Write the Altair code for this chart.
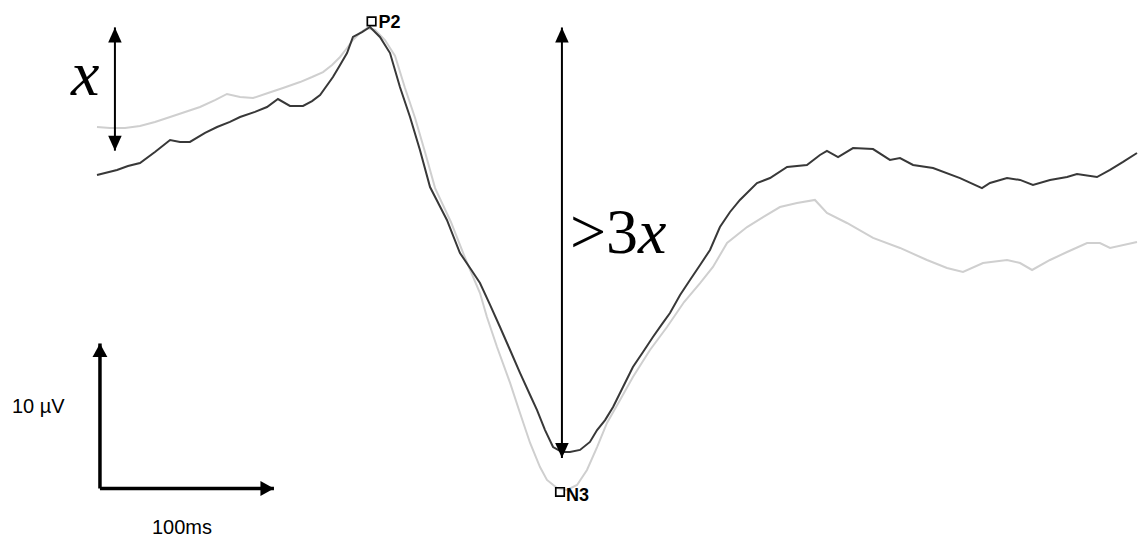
import altair as alt
import pandas as pd

# Grand-average waveforms (time in ms, amplitude in µV, positive up)
dark_t = [0, 4.6, 11.5, 17.8, 24.7, 33.3, 42.0, 47.7, 53.4, 62.1, 69.0, 76.4, 82.2, 90.8, 97.7,
          104.0, 110.9, 118.4, 123.6, 128.2, 135.6, 139.7, 143.7, 147.1, 152.3, 156.9, 162.6,
          168.4, 174.1, 179.9, 185.6, 191.4, 201.1, 208.6, 214.4, 220.1, 225.9, 231.6, 237.4,
          243.1, 248.9, 252.9, 257.5, 262.1, 267.2, 271.8, 277.6, 283.3, 287.4, 292.0, 296.6,
          302.3, 308.0, 313.8, 319.5, 324.7, 329.3, 335.1, 340.8, 346.6, 352.3, 358.0, 363.8,
          369.5, 379.3, 386.8, 396.6, 408.0, 415.5, 419.5, 425.9, 434.5, 446.0, 455.7, 461.5,
          469.0, 480.5, 496.0, 508.6, 513.2, 523.0, 530.5, 537.9, 547.7, 557.5, 563.2, 574.7,
          582.2, 589.7, 597.7]
dark_v = [8.62, 8.76, 8.97, 9.24, 9.45, 10.21, 11.03, 10.90, 10.90, 11.52, 11.93, 12.28, 12.62,
          12.97, 13.31, 13.86, 13.38, 13.38, 13.72, 14.14, 15.38, 16.21, 17.03, 18.14, 18.48,
          18.83, 18.14, 17.03, 14.69, 12.62, 10.34, 7.79, 5.52, 3.24, 2.21, 1.17, -0.34, -1.86,
          -3.45, -5.03, -6.55, -7.59, -8.97, -10.14, -10.48, -10.48, -10.34, -9.79, -8.97,
          -8.28, -7.38, -6.00, -4.62, -3.59, -2.55, -1.66, -0.90, 0.34, 1.38, 2.41, 3.45, 5.03,
          6.07, 6.90, 8.07, 8.41, 9.17, 9.31, 10.00, 10.28, 9.86, 10.48, 10.41, 9.66, 9.79,
          9.31, 9.10, 8.41, 7.72, 8.07, 8.41, 8.28, 7.93, 8.28, 8.48, 8.69, 8.48, 8.97, 9.52,
          10.14]

light_t = [0, 7.5, 16.1, 24.7, 33.3, 42.0, 50.6, 59.2, 67.8, 74.7, 82.2, 89.7, 98.3, 106.9,
           116.7, 123.6, 129.9, 135.1, 139.7, 143.7, 147.1, 151.1, 155.2, 159.8, 165.5, 171.3,
           177.0, 182.8, 188.5, 194.3, 203.4, 210.9, 214.4, 220.1, 224.1, 229.9, 237.4, 243.1,
           248.9, 254.6, 258.6, 264.4, 270.1, 275.9, 281.6, 287.4, 293.1, 300.6, 308.0, 317.8,
           327.6, 337.4, 346.6, 354.0, 362.1, 373.6, 382.8, 392.5, 402.3, 412.6, 419.5, 431.0,
           446.0, 461.5, 477.0, 488.5, 497.7, 509.2, 523.0, 530.5, 537.4, 547.7, 557.5, 569.0,
           576.4, 582.2, 597.7]
light_v = [11.93, 11.86, 11.86, 12.00, 12.28, 12.62, 12.97, 13.31, 13.79, 14.21, 14.00, 13.93,
           14.28, 14.62, 15.03, 15.38, 15.72, 16.21, 16.76, 17.38, 17.93, 18.41, 18.76, 18.62,
           17.93, 16.83, 14.62, 12.55, 10.21, 7.72, 5.38, 3.10, 2.07, 0.48, -1.17, -3.24, -5.72,
           -7.79, -9.86, -11.52, -12.41, -12.97, -13.10, -12.76, -11.72, -10.14, -8.48, -6.90,
           -5.31, -3.45, -1.86, -0.14, 1.17, 2.28, 3.93, 5.03, 5.72, 6.41, 6.69, 6.90, 6.00,
           5.31, 4.28, 3.59, 2.76, 2.21, 1.93, 2.55, 2.76, 2.55, 2.07, 2.76, 3.31, 3.93, 3.93,
           3.59, 4.00]

# Peak markers
peak_names = ["P2", "N3"]
peak_t = [157.8, 266.1]
peak_v = [19.21, -13.24]

# Amplitude arrows: "x" (P2 above baseline) and ">3x" (P2 to N3)
x_arrow = {"t": 10.3, "top": 18.8, "bottom": 10.3}
big_arrow = {"t": 267.2, "top": 18.8, "bottom": -10.9}

# Scale bar: origin, 100 ms horizontally and 10 µV vertically
bar_t0, bar_v0 = 1.7, -13.0
bar_ms, bar_uv = 100, 10

W, H = 1144, 543
PX_PER_MS, PX_PER_UV = 1.74, 14.5
T0_PX, V0_PX = 97, 300
x_dom = [-T0_PX / PX_PER_MS, (W - T0_PX) / PX_PER_MS]
y_dom = [(V0_PX - H) / PX_PER_UV, V0_PX / PX_PER_UV]

SERIF = "'Liberation Serif', 'Times New Roman', 'DejaVu Serif', serif"
SANS = "'Liberation Sans', Arial, sans-serif"

xs = alt.Scale(domain=x_dom, nice=False, zero=False)
ys = alt.Scale(domain=y_dom, nice=False, zero=False)


def X(field="t"):
    return alt.X(f"{field}:Q", scale=xs, axis=None)


def Y(field="v"):
    return alt.Y(f"{field}:Q", scale=ys, axis=None)


dark = pd.DataFrame({"t": dark_t, "v": dark_v})
light = pd.DataFrame({"t": light_t, "v": light_v})
peaks = pd.DataFrame({"name": peak_names, "t": peak_t, "v": peak_v})

light_line = alt.Chart(light).mark_line(color="#cfcfcf", strokeWidth=2).encode(x=X(), y=Y())
dark_line = alt.Chart(dark).mark_line(color="#383838", strokeWidth=2).encode(x=X(), y=Y())

peak_marks = alt.Chart(peaks).mark_point(
    shape="square", size=72, filled=False, stroke="black", strokeWidth=1.7, opacity=1
).encode(x=X(), y=Y())
p2_label = alt.Chart(peaks[peaks.name == "P2"]).mark_text(
    align="left", baseline="alphabetic", dx=7, dy=7, font=SANS,
    fontWeight="bold", fontSize=18, color="black"
).encode(x=X(), y=Y(), text="name:N")
n3_label = alt.Chart(peaks[peaks.name == "N3"]).mark_text(
    align="left", baseline="alphabetic", dx=6, dy=9, font=SANS,
    fontWeight="bold", fontSize=18, color="black"
).encode(x=X(), y=Y(), text="name:N")

UP = "M0,0L-0.45,1L0.45,1Z"
DOWN = "M0,0L-0.45,-1L0.45,-1Z"
UP_W = "M0,0L-0.55,1L0.55,1Z"
RIGHT_W = "M0,0L-1,-0.55L-1,0.55Z"

arrows = pd.DataFrame({
    "t": [x_arrow["t"], big_arrow["t"]],
    "top": [x_arrow["top"], big_arrow["top"]],
    "bottom": [x_arrow["bottom"], big_arrow["bottom"]],
})
shafts = alt.Chart(arrows).mark_rule(color="black", strokeWidth=2).encode(
    x=X(), y=Y("top"), y2="bottom:Q")
heads_up = alt.Chart(arrows).mark_point(
    shape=UP, size=900, filled=True, color="black", opacity=1, strokeWidth=0
).encode(x=X(), y=Y("top"))
heads_down = alt.Chart(arrows).mark_point(
    shape=DOWN, size=900, filled=True, color="black", opacity=1, strokeWidth=0
).encode(x=X(), y=Y("bottom"))

x_mid = pd.DataFrame({"t": [x_arrow["t"]], "v": [(x_arrow["top"] + x_arrow["bottom"]) / 2]})
big_mid = pd.DataFrame({"t": [big_arrow["t"]], "v": [(big_arrow["top"] + big_arrow["bottom"]) / 2]})

x_label = alt.Chart(x_mid).mark_text(
    text="x", align="left", baseline="alphabetic", dx=-44, dy=6, font=SERIF,
    fontStyle="italic", fontSize=64, color="black"
).encode(x=X(), y=Y())
gt3_label = alt.Chart(big_mid).mark_text(
    text=">3", align="left", baseline="alphabetic", dx=8, dy=10, font=SERIF,
    fontSize=64, color="black"
).encode(x=X(), y=Y())
gt3_x = alt.Chart(big_mid).mark_text(
    text="x", align="left", baseline="alphabetic", dx=76, dy=10, font=SERIF,
    fontStyle="italic", fontSize=64, color="black"
).encode(x=X(), y=Y())

# Scale bar
bar_v = pd.DataFrame({"t": [bar_t0], "v": [bar_v0], "v2": [bar_v0 + bar_uv]})
bar_h = pd.DataFrame({"t": [bar_t0], "t2": [bar_t0 + bar_ms], "v": [bar_v0]})
bar_v_rule = alt.Chart(bar_v).mark_rule(color="black", strokeWidth=3.5).encode(
    x=X(), y=Y(), y2="v2:Q")
bar_h_rule = alt.Chart(bar_h).mark_rule(color="black", strokeWidth=3.5).encode(
    x=X(), x2="t2:Q", y=Y())
bar_v_head = alt.Chart(bar_v).mark_point(
    shape=UP_W, size=729, filled=True, color="black", opacity=1, strokeWidth=0
).encode(x=X(), y=Y("v2"))
bar_h_head = alt.Chart(bar_h).mark_point(
    shape=RIGHT_W, size=729, filled=True, color="black", opacity=1, strokeWidth=0
).encode(x=X("t2"), y=Y())

uv_label = alt.Chart(pd.DataFrame({"t": [bar_t0], "v": [bar_v0 + bar_uv / 2], "s": ["10 µV"]})).mark_text(
    align="left", baseline="alphabetic", dx=-88, dy=-3, font=SANS,
    fontSize=20, color="black"
).encode(x=X(), y=Y(), text="s:N")
ms_label = alt.Chart(pd.DataFrame({"t": [bar_t0 + bar_ms / 2], "v": [bar_v0], "s": ["100ms"]})).mark_text(
    align="center", baseline="alphabetic", dx=-5, dy=45, font=SANS,
    fontSize=20, color="black"
).encode(x=X(), y=Y(), text="s:N")

chart = alt.layer(
    light_line, dark_line, shafts, heads_up, heads_down, peak_marks, p2_label, n3_label,
    x_label, gt3_label, gt3_x, bar_v_rule, bar_h_rule, bar_v_head, bar_h_head,
    uv_label, ms_label
).properties(
    width=W, height=H, padding=0, background="white",
    autosize=alt.AutoSizeParams(type="none")
).configure_view(stroke=None)

chart.save("out.html", embed_options={"renderer": "svg", "actions": False})
